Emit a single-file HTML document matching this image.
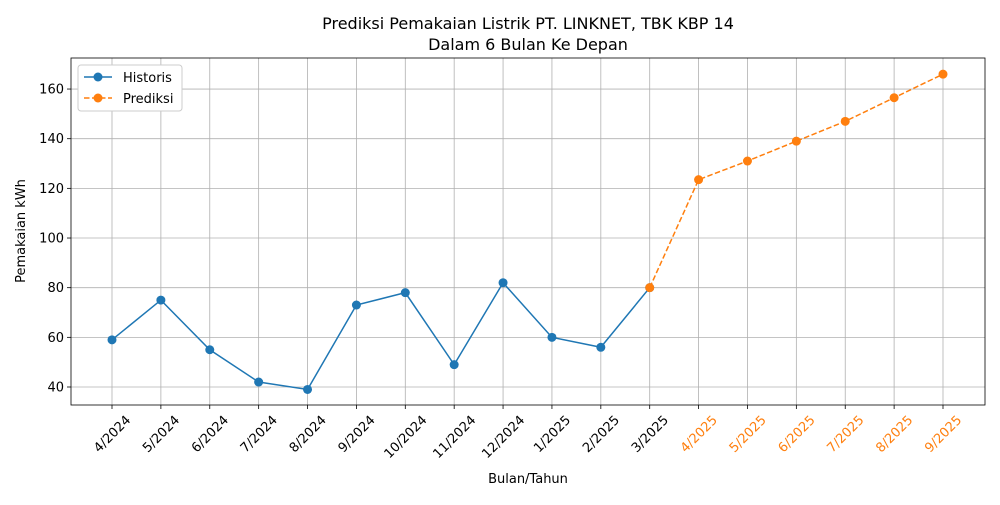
<!DOCTYPE html>
<html><head><meta charset="utf-8"><style>
body{margin:0;background:#fff;font-family:"Liberation Sans","DejaVu Sans",sans-serif}
svg text{font-family:"DejaVu Sans","Liberation Sans",sans-serif}
</style></head><body>
<svg id="c" width="1000" height="500" xmlns="http://www.w3.org/2000/svg"></svg>
<script>
const categories=["4/2024","5/2024","6/2024","7/2024","8/2024","9/2024","10/2024","11/2024","12/2024","1/2025","2/2025","3/2025","4/2025","5/2025","6/2025","7/2025","8/2025","9/2025"];
const historis=[59,75,55,42,39,73,78,49,82,60,56,80];
const prediksi=[80,123.5,131,139,147,156.5,166];
const predStart=11;
const yTicks=[40,60,80,100,120,140,160];
const L=71,R=985,T=58,B=405;
const x0=112,dx=(943-112)/17;
const yMin=32.75,yMax=172.5;
const X=i=>x0+i*dx;
const Y=v=>B-(v-yMin)/(yMax-yMin)*(B-T);
const svg=document.getElementById('c');
const NS='http://www.w3.org/2000/svg';
function el(t,a,p){const e=document.createElementNS(NS,t);for(const k in a)e.setAttribute(k,a[k]);(p||svg).appendChild(e);return e;}
let t=el('text',{x:528,y:29,'text-anchor':'middle','font-size':16,fill:'#000'});t.textContent='Prediksi Pemakaian Listrik PT. LINKNET, TBK KBP 14';


t=el('text',{x:528,y:50,'text-anchor':'middle','font-size':16,fill:'#000'});t.textContent='Dalam 6 Bulan Ke Depan';


// grid
categories.forEach((c,i)=>{
 const g=el('line',{x1:X(i),x2:X(i),y1:T,y2:B,stroke:'#b0b0b0','stroke-width':0.8});
 
 
 el('line',{x1:X(i),x2:X(i),y1:B,y2:B+4,stroke:'#000','stroke-width':0.8});
 const tx=el('text',{x:X(i),y:0,'text-anchor':'middle','font-size':13,fill:i>predStart?'#ff7f0e':'#000'});
 tx.textContent=c;
 const w=tx.getComputedTextLength();
 const cy=B+8+(w+13)*0.7071/2;
 tx.setAttribute('y',cy+4.5);
 tx.setAttribute('transform',`rotate(-45 ${X(i)} ${cy})`);
 
 
});
yTicks.forEach(v=>{
 const g=el('line',{x1:L,x2:R,y1:Y(v),y2:Y(v),stroke:'#b0b0b0','stroke-width':0.8});
 
 
 el('line',{x1:L-4,x2:L,y1:Y(v),y2:Y(v),stroke:'#000','stroke-width':0.8});
 const tx=el('text',{x:L-7,y:Y(v)+4.5,'text-anchor':'end','font-size':13,fill:'#000'});
 tx.textContent=v;
 
 
});
const fr=el('rect',{x:L,y:T,width:R-L,height:B-T,fill:'none',stroke:'#000','stroke-width':0.8});


t=el('text',{x:528,y:483,'text-anchor':'middle','font-size':13});t.textContent='Bulan/Tahun';


t=el('text',{x:25,y:231,'text-anchor':'middle','font-size':13,transform:'rotate(-90 25 231)'});t.textContent='Pemakaian kWh';


// series
const hp=el('polyline',{points:historis.map((v,i)=>X(i)+','+Y(v)).join(' '),fill:'none',stroke:'#1f77b4','stroke-width':1.5});


historis.forEach((v,i)=>{const c=el('circle',{cx:X(i),cy:Y(v),r:4.5,fill:'#1f77b4'});
 
 });
const pp=el('polyline',{points:prediksi.map((v,i)=>X(i+predStart)+','+Y(v)).join(' '),fill:'none',stroke:'#ff7f0e','stroke-width':1.5,'stroke-dasharray':'5.5,2.5'});


prediksi.forEach((v,i)=>{const c=el('circle',{cx:X(i+predStart),cy:Y(v),r:4.5,fill:'#ff7f0e'});
 
 });
// legend
const lg=el('g',{});


el('rect',{x:78,y:65,width:104,height:46,rx:3,fill:'#fff',stroke:'#ccc','stroke-width':1},lg);
el('line',{x1:84,x2:112,y1:77,y2:77,stroke:'#1f77b4','stroke-width':1.5},lg);
el('circle',{cx:98,cy:77,r:4.5,fill:'#1f77b4'},lg);
t=el('text',{x:123,y:82,'font-size':13},lg);t.textContent='Historis';


el('line',{x1:84,x2:112,y1:98,y2:98,stroke:'#ff7f0e','stroke-width':1.5,'stroke-dasharray':'5.5,2.5'},lg);
el('circle',{cx:98,cy:98,r:4.5,fill:'#ff7f0e'},lg);
t=el('text',{x:123,y:103,'font-size':13},lg);t.textContent='Prediksi';


</script>
</body></html>
